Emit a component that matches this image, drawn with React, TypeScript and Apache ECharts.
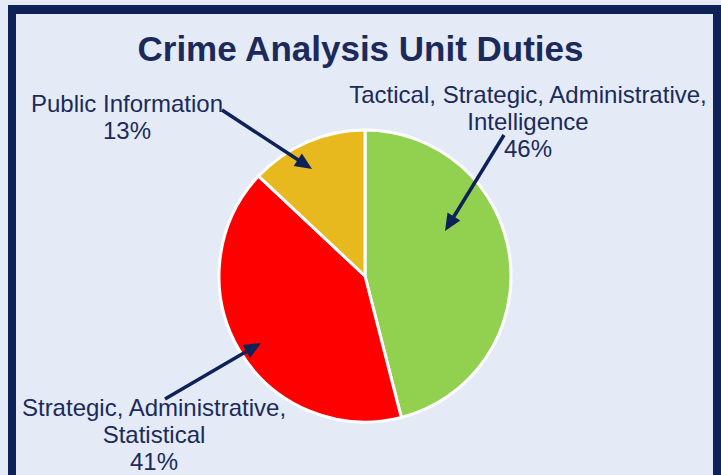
import React, { useEffect, useRef } from "react";
import * as echarts from "echarts";

const TITLE = "Crime Analysis Unit Duties";
const categories = [
  "Tactical, Strategic, Administrative,\nIntelligence",
  "Strategic, Administrative,\nStatistical",
  "Public Information",
];
const values = [46, 41, 13];
const colors = ["#92d050", "#ff0000", "#e8b91f"];
// label block centres (annotation placement)
const labelPos = [
  [528, 121],
  [154, 434],
  [127, 117],
];
// arrows: [fromX, fromY, toX, toY]
const arrows = [
  [504, 135, 445, 231],
  [165, 399, 261, 343],
  [222, 110, 312, 169],
];

const NAVY = "#0f2257";
const TEXT = "#1b2a5a";

function arrowGraphics() {
  const out: any[] = [];
  arrows.forEach(([x1, y1, x2, y2]) => {
    const dx = x2 - x1;
    const dy = y2 - y1;
    const len = Math.sqrt(dx * dx + dy * dy);
    const ux = dx / len;
    const uy = dy / len;
    const hl = 17;
    const hw = 7.5;
    const bx = x2 - ux * hl;
    const by = y2 - uy * hl;
    out.push({
      type: "line",
      shape: { x1, y1, x2: bx + ux * 2, y2: by + uy * 2 },
      style: { stroke: NAVY, lineWidth: 3.5 },
      z: 100,
    });
    out.push({
      type: "polygon",
      shape: {
        points: [
          [x2, y2],
          [bx - uy * hw, by + ux * hw],
          [bx + uy * hw, by - ux * hw],
        ],
      },
      style: { fill: NAVY },
      z: 100,
    });
  });
  return out;
}

export default function App() {
  const ref = useRef<HTMLDivElement>(null);
  useEffect(() => {
    if (!ref.current) return;
    const chart = echarts.init(ref.current, null, { renderer: "svg" });
    chart.setOption({
      animation: false,
      backgroundColor: "#e4ebf7",
      title: {
        text: TITLE,
        left: "center",
        top: 26,
        textStyle: {
          color: TEXT,
          fontFamily: "Liberation Sans, Arial, sans-serif",
          fontSize: 35,
          fontWeight: "bold",
        },
      },
      graphic: [
        { type: "rect", shape: { x: 8, y: 5, width: 713, height: 9 }, style: { fill: NAVY }, z: 90 },
        { type: "rect", shape: { x: 8, y: 5, width: 8, height: 470 }, style: { fill: NAVY }, z: 90 },
        { type: "rect", shape: { x: 713, y: 5, width: 8, height: 470 }, style: { fill: NAVY }, z: 90 },
        ...arrowGraphics(),
      ],
      series: [
        {
          type: "pie",
          center: [365, 276],
          radius: 146,
          startAngle: 90,
          clockwise: true,
          avoidLabelOverlap: false,
          percentPrecision: 0,
          itemStyle: { borderColor: "#ffffff", borderWidth: 3 },
          label: {
            show: true,
            formatter: (p: any) => `${p.name}\n${Math.round(p.percent)}%`,
            color: TEXT,
            fontFamily: "Liberation Sans, Arial, sans-serif",
            fontSize: 24,
            lineHeight: 27,
            align: "center",
          },
          labelLine: { show: false },
          labelLayout: (params: any) => ({
            x: labelPos[params.dataIndex][0],
            y: labelPos[params.dataIndex][1],
            align: "center",
            verticalAlign: "middle",
          }),
          emphasis: { disabled: true },
          data: categories.map((c, i) => ({
            name: c,
            value: values[i],
            itemStyle: { color: colors[i] },
          })),
        },
      ],
    });
    return () => chart.dispose();
  }, []);
  return (
    <div
      ref={ref}
      style={{ position: "fixed", left: 0, top: 0, width: 721, height: 475 }}
    />
  );
}
